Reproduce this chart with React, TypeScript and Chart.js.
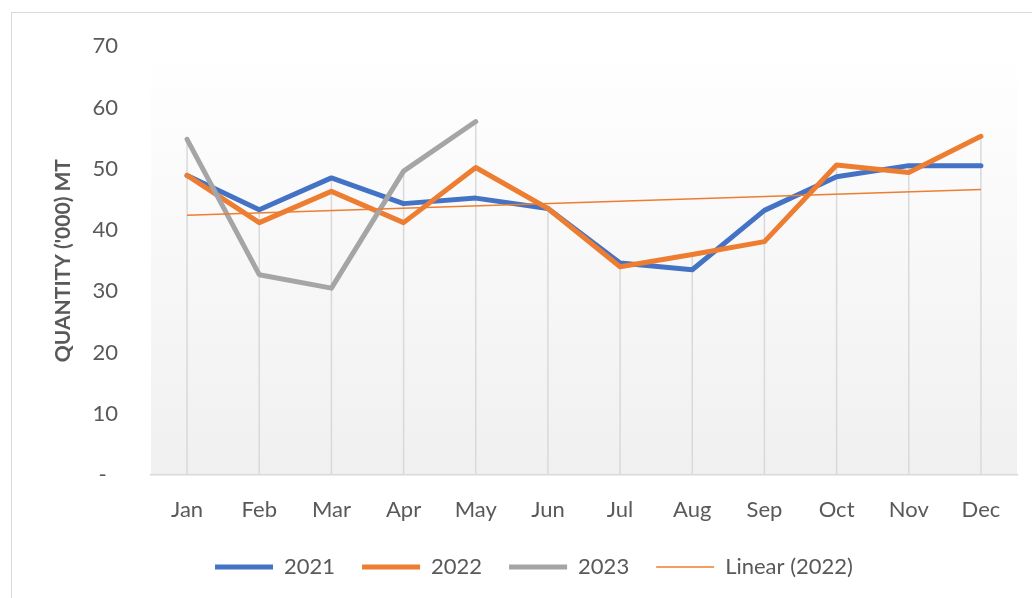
import React, { useEffect, useRef } from 'react';
import { Chart, registerables } from 'chart.js';

Chart.register(...registerables);

const months = ['Jan', 'Feb', 'Mar', 'Apr', 'May', 'Jun', 'Jul', 'Aug', 'Sep', 'Oct', 'Nov', 'Dec'];
const sales2021 = [48.9, 43.3, 48.5, 44.3, 45.2, 43.5, 34.6, 33.5, 43.2, 48.7, 50.5, 50.5];
const sales2022 = [48.9, 41.2, 46.3, 41.2, 50.2, 43.5, 34.0, 36.0, 38.1, 50.6, 49.4, 55.3];
const sales2023 = [54.8, 32.7, 30.5, 49.6, 57.7, null, null, null, null, null, null, null];
const trend2022 = [42.4, null, null, null, null, null, null, null, null, null, null, 46.6];
const yTicks = [0, 10, 20, 30, 40, 50, 60, 70];

const FONT = 'Lato';
const TEXT = '#595959';

const plotBackground = {
  id: 'plotBackground',
  beforeDraw(chart: any) {
    const { ctx, chartArea } = chart;
    const g = ctx.createLinearGradient(0, chartArea.top, 0, chartArea.bottom);
    g.addColorStop(0, '#ffffff');
    g.addColorStop(1, '#f0f0f0');
    ctx.save();
    ctx.fillStyle = g;
    ctx.fillRect(chartArea.left, chartArea.top, chartArea.right - chartArea.left, chartArea.bottom - chartArea.top);
    ctx.restore();
  },
};

const dropLines = {
  id: 'dropLines',
  beforeDatasetsDraw(chart: any) {
    const { ctx, chartArea, scales } = chart;
    const x = scales.x;
    const y = scales.y;
    ctx.save();
    ctx.strokeStyle = '#d9d9d9';
    ctx.lineWidth = 1.5;
    months.forEach((_m, i) => {
      const vals = [sales2021[i], sales2022[i], sales2023[i]].filter((v) => v != null) as number[];
      if (!vals.length) return;
      const top = Math.max(...vals);
      const px = x.getPixelForValue(i);
      ctx.beginPath();
      ctx.moveTo(px, y.getPixelForValue(top));
      ctx.lineTo(px, chartArea.bottom);
      ctx.stroke();
    });
    ctx.restore();
  },
};

export default function App() {
  const ref = useRef<HTMLCanvasElement | null>(null);

  useEffect(() => {
    if (!ref.current) return;
    const common = {
      pointRadius: 0,
      pointHoverRadius: 0,
      fill: false,
      tension: 0,
      borderCapStyle: 'round',
      borderJoinStyle: 'round',
    };
    const chart = new Chart(ref.current, {
      type: 'line',
      data: {
        labels: months,
        datasets: [
          { ...common, label: '2021', data: sales2021, borderColor: '#4472C4', backgroundColor: '#4472C4', borderWidth: 5, order: 4 },
          { ...common, label: '2022', data: sales2022, borderColor: '#ED7D31', backgroundColor: '#ED7D31', borderWidth: 5, order: 3 },
          { ...common, label: '2023', data: sales2023, borderColor: '#A5A5A5', backgroundColor: '#A5A5A5', borderWidth: 5, order: 2 },
          { ...common, label: 'Linear (2022)', data: trend2022, borderColor: '#ED7D31', backgroundColor: '#ED7D31', borderWidth: 1.5, borderCapStyle: 'butt', spanGaps: true, order: 1 },
        ] as any,
      },
      options: {
        animation: false,
        responsive: false,
        maintainAspectRatio: false,
        layout: { padding: { left: 51, right: 15, top: 43, bottom: 10 } },
        plugins: {
          tooltip: { enabled: false },
          legend: {
            position: 'bottom',
            labels: {
              font: { family: FONT, size: 22 },
              color: TEXT,
              usePointStyle: true,
              pointStyle: 'line',
              pointStyleWidth: 58,
              padding: 27,
              sort: (a: any, b: any) => a.datasetIndex - b.datasetIndex,
            },
          },
        },
        scales: {
          x: {
            offset: true,
            grid: { display: false, drawTicks: false },
            border: { display: true, color: '#d9d9d9', width: 1.5 },
            ticks: { font: { family: FONT, size: 22 }, color: TEXT, padding: 22, maxRotation: 0, autoSkip: false },
            afterFit: (s: any) => { s.height = 54; },
          },
          y: {
            min: 0,
            max: 70,
            afterBuildTicks: (s: any) => { s.ticks = yTicks.map((v) => ({ value: v })); },
            grid: { display: false, drawTicks: false },
            border: { display: false },
            ticks: {
              font: { family: FONT, size: 22 },
              color: TEXT,
              padding: 33,
              callback: (v: any) => (Number(v) === 0 ? '-  ' : String(v)),
            },
            title: {
              display: true,
              text: "QUANTITY ('000) MT",
              font: { family: FONT, size: 21, weight: 'bold' },
              color: TEXT,
              padding: { top: 0, bottom: 0 },
            },
            afterFit: (s: any) => { s.width = 100; },
          },
        },
      } as any,
      plugins: [plotBackground, dropLines],
    });
    return () => chart.destroy();
  }, []);

  return (
    <div style={{ position: 'absolute', left: 0, top: 0, width: 1032, height: 598, overflow: 'hidden', background: '#fff' }}>
      <div style={{ position: 'absolute', left: 11, top: 12, width: 1040, height: 600, border: '1px solid #d9d9d9', boxSizing: 'border-box' }} />
      <canvas ref={ref} width={1032} height={598} style={{ position: 'absolute', left: 0, top: 0, width: 1032, height: 598 }} />
    </div>
  );
}
